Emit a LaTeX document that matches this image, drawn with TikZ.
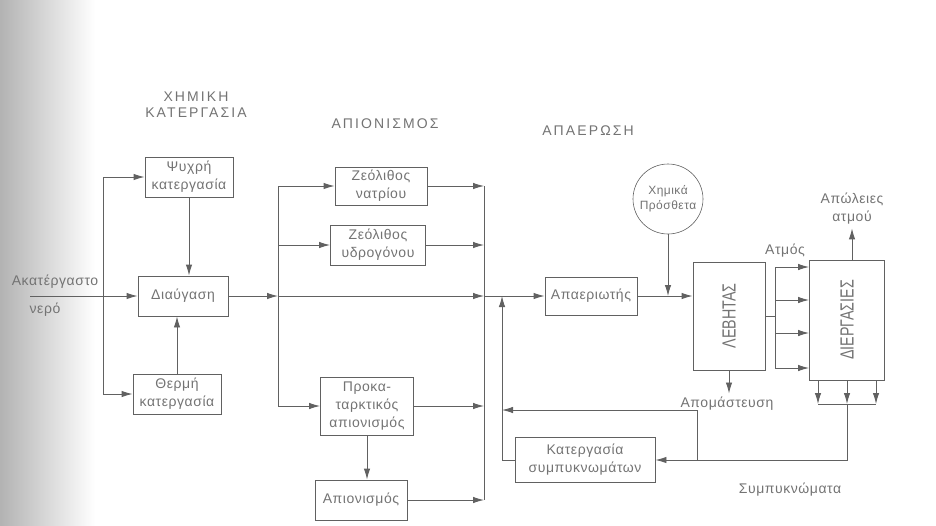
\documentclass[tikz,border=0pt]{standalone}
\usepackage{fontspec}
\setmainfont{Liberation Sans}
\newfontfamily\boxfont[LetterSpace=4]{Liberation Sans}
\newfontfamily\headfont[LetterSpace=15]{Liberation Sans}
\newfontfamily\tallfont[FakeStretch=0.75]{Liberation Sans}
\usetikzlibrary{arrows.meta}
\definecolor{ink}{gray}{0.38}
\definecolor{inktext}{gray}{0.45}

\begin{document}
\begin{tikzpicture}[x=1pt,y=-1pt,line width=0.9pt,color=ink,
	box/.style={draw=ink, rectangle, inner sep=2pt, align=center, text=inktext, font=\boxfont\fontsize{14}{18}\selectfont},
	tallbox/.style={box, font=\tallfont\fontsize{19}{21}\selectfont},
	head/.style={align=center, text=inktext, font=\headfont\fontsize{14}{16}\selectfont},
	lbl/.style={align=center, text=inktext, font=\boxfont\fontsize{14}{18}\selectfont},
	flow/.style={-{Latex[length=11pt,width=6.5pt]}}]
		\useasboundingbox (0,0) rectangle (936,525);
		% scanned page edge
		\shade[left color=black!30, right color=white] (0,0) rectangle (95,525);

		% headings
		\node[head] (hchem) at (196,105) {ΧΗΜΙΚΗ\\ΚΑΤΕΡΓΑΣΙΑ};
		\node[head] (hdemin) at (385,124) {ΑΠΙΟΝΙΣΜΟΣ};
		\node[head] (hdeaer) at (588,131) {ΑΠΑΕΡΩΣΗ};

		% chemical treatment
		\node[box, minimum width=88, minimum height=40] (cold) at (189,177) {Ψυχρή\\κατεργασία};
		\node[box, minimum width=90, minimum height=40] (clar) at (183,296) {Διαύγαση};
		\node[box, minimum width=88, minimum height=40] (hot) at (177,394) {Θερμή\\κατεργασία};
		\node[lbl] (rawa) at (55,282) {Ακατέργαστο};
		\node[lbl] (rawb) at (45,310) {νερό};
		\coordinate (raw) at (30,296);
		\coordinate (split) at (103,296);

		\draw[flow] (raw) -- (clar);
		\draw[flow] (split) |- (cold);
		\draw[flow] (split) |- (hot);
		\draw[flow] (cold.south) -- (cold.south |- clar.north);
		\draw[flow] (hot.north) -- (hot.north |- clar.south);

		% deionisation
		\node[box, minimum width=92, minimum height=38] (zna) at (381,186) {Ζεόλιθος\\νατρίου};
		\node[box, minimum width=95, minimum height=40] (zh) at (378,245) {Ζεόλιθος\\υδρογόνου};
		\node[box, minimum width=93, minimum height=58] (pre) at (367,406) {Προκα-\\ταρκτικός\\απιονισμός};
		\node[box, minimum width=92, minimum height=40] (demin) at (361,500) {Απιονισμός};
		\coordinate (fan) at (278,296);
		\coordinate (join) at (484,296);

		\draw[flow] (clar) -- (fan);
		\draw[flow] (fan) -- (join);
		\draw[flow] (fan) |- (zna);
		\draw[flow] (fan) |- (zh);
		\draw[flow] (fan) |- (pre);
		\draw[flow] (zna) -- (zna -| join);
		\draw[flow] (zh) -- (zh -| join);
		\draw[flow] (pre) -- (pre -| join);
		\draw[flow] (demin) -- (demin -| join);
		\draw (zna -| join) -- (demin -| join);
		\draw[flow] (pre) -- (pre |- demin.north);

		% deaeration and boiler
		\node[box, minimum width=92, minimum height=38] (deaer) at (591,296) {Απαεριωτής};
		\node[box, circle, inner sep=0pt, minimum size=70, line width=0.6pt, font=\boxfont\fontsize{12}{15}\selectfont] (chem) at (668,199) {Χημικά\\Πρόσθετα};
		\node[tallbox, minimum width=72, minimum height=108] (boiler) at (729,316) {\rotatebox{90}{ΛΕΒΗΤΑΣ}};
		\node[lbl] (blow) at (727,404) {Απομάστευση};

		\draw[flow] (join) -- (deaer);
		\draw[flow] (deaer) -- (deaer -| boiler.west);
		\draw[flow] (chem) -- (chem |- deaer);
		\draw[flow] (boiler.south) -- (boiler.south |- blow.north);

		% processes
		\node[tallbox, minimum width=75, minimum height=120] (proc) at (847,320) {\rotatebox{90}{ΔΙΕΡΓΑΣΙΕΣ}};
		\node[lbl] (steamtxt) at (785,251) {Ατμός};
		\node[lbl] (loss) at (852,209) {Απώλειες\\ατμού};
		\coordinate (steam) at (775,316);
		\foreach \y [count=\i] in {267,300,333,368}
			\coordinate (st\i) at (775,\y);
		\foreach \x [count=\i] in {818,847,876}
			\coordinate (out\i) at (\x,404);

		\draw (boiler) -- (steam);
		\draw (st1) -- (st4);
		\foreach \i in {1,...,4}
			\draw[flow] (st\i) -- (st\i -| proc.west);
		\draw[flow] (proc.north -| loss) -- (loss.south);
		\foreach \i in {1,2,3}
			\draw[flow] (out\i |- proc.south) -- (out\i);
		\draw (out1) -- (out3);

		% condensate return
		\node[box, minimum width=140, minimum height=45] (condtr) at (585,460) {Κατεργασία\\συμπυκνωμάτων};
		\node[lbl] (condtxt) at (790,490) {Συμπυκνώματα};
		\coordinate (tap) at (697,460);
		\coordinate (ret) at (502,296);
		\coordinate (retb) at (502,410);

		\draw[flow] (out2) |- (condtr);
		\draw[flow] (tap) |- (retb);
		\draw[flow] (condtr) -| (ret);
\end{tikzpicture}
\end{document}
